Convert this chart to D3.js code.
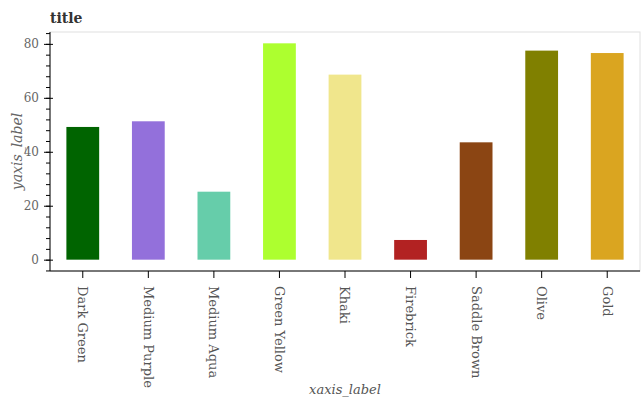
<!DOCTYPE html>
<meta charset="utf-8">
<script src="https://d3js.org/d3.v7.min.js"></script>
<style>
  body { margin: 0; background: #fff; }
  text { font-family: "DejaVu Serif", serif; }
</style>
<svg id="chart"></svg>
<script>
// data
var categories = ["Dark Green", "Medium Purple", "Medium Aqua", "Green Yellow", "Khaki",
                  "Firebrick", "Saddle Brown", "Olive", "Gold"];
var values = [49.2, 51.3, 25.2, 80.2, 68.6, 7.3, 43.5, 77.5, 76.6];
var colors = ["#006400", "#9370db", "#66cdaa", "#adff2f", "#f0e68c",
              "#b22222", "#8b4513", "#808000", "#daa520"];
var yTicks = [0, 20, 40, 60, 80];

var width = 644, height = 400;
var margin = {top: 32, right: 4, bottom: 129, left: 50};

var svg = d3.select("#chart").attr("width", width).attr("height", height);

var x = d3.scaleBand()
  .domain(categories)
  .range([margin.left, width - margin.right])
  .paddingInner(0.5)
  .paddingOuter(0.25);

var y = d3.scaleLinear()
  .domain([-4.2, 84.4])
  .range([height - margin.bottom, margin.top]);

// panel border (light)
svg.append("rect")
  .attr("x", margin.left).attr("y", margin.top)
  .attr("width", width - margin.right - margin.left)
  .attr("height", height - margin.bottom - margin.top)
  .attr("fill", "none").attr("stroke", "#e0e0e0");

// bars
svg.append("g")
  .selectAll("rect")
  .data(values)
  .enter()
  .append("rect")
  .attr("x", function (d, i) { return x(categories[i]); })
  .attr("width", x.bandwidth())
  .attr("y", function (d) { return y(d); })
  .attr("height", function (d) { return y(0) - y(d); })
  .attr("fill", function (d, i) { return colors[i]; });

// y axis: minor ticks every 4, labelled ticks every 20
var minor = d3.range(-4, 85, 4);
var yMinor = svg.append("g")
  .attr("transform", "translate(" + margin.left + ",0)")
  .call(d3.axisLeft(y).tickValues(minor).tickSize(4).tickFormat(""));
yMinor.select(".domain").remove();

var yAxis = svg.append("g")
  .attr("transform", "translate(" + margin.left + ",0)")
  .call(d3.axisLeft(y).tickValues(yTicks).tickSize(6).tickPadding(5));
yAxis.selectAll(".tick line").attr("x2", -6).attr("x1", 3);
yAxis.select(".domain").attr("d", "M0," + y.range()[0] + "V" + y.range()[1]);
yAxis.selectAll("text").attr("fill", "#666").style("font-size", "12px");
svg.selectAll(".tick line").attr("stroke", "#000");

// x axis
var xAxis = svg.append("g")
  .attr("transform", "translate(0," + (height - margin.bottom) + ")")
  .call(d3.axisBottom(x).tickSize(7).tickSizeOuter(0));
xAxis.select(".domain").attr("d", "M" + margin.left + ",0H" + (width - margin.right));
xAxis.selectAll("text")
  .attr("fill", "#555")
  .style("font-size", "13px")
  .attr("transform", "rotate(90)")
  .attr("x", 15)
  .attr("y", 0)
  .attr("dy", "0.35em")
  .style("text-anchor", "start");

// titles
svg.append("text")
  .attr("x", margin.left)
  .attr("y", 23)
  .attr("fill", "#333")
  .style("font-size", "14px")
  .style("font-weight", "bold")
  .text("title");

svg.append("text")
  .attr("transform", "translate(22," + ((margin.top + height - margin.bottom) / 2) + ") rotate(-90)")
  .attr("text-anchor", "middle")
  .attr("fill", "#666")
  .style("font-size", "14px")
  .style("font-style", "italic")
  .text("yaxis_label");

svg.append("text")
  .attr("x", (margin.left + width - margin.right) / 2)
  .attr("y", 394)
  .attr("text-anchor", "middle")
  .attr("fill", "#555")
  .style("font-size", "13px")
  .style("font-style", "italic")
  .text("xaxis_label");
</script>
